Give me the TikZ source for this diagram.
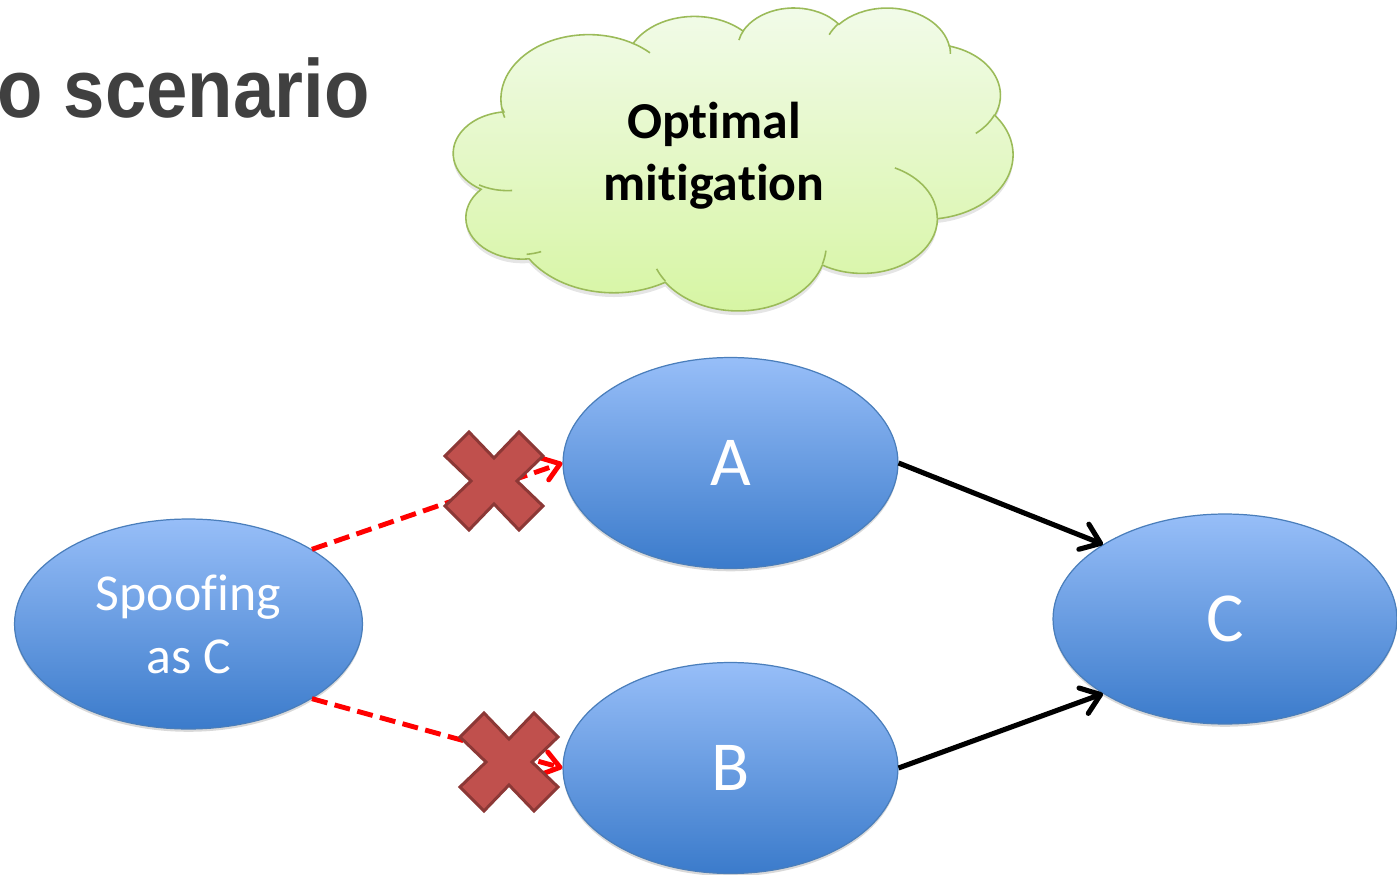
\documentclass[tikz,border=0pt]{standalone}
\usepackage{fontspec}
\setmainfont{Carlito}[Ligatures=NoCommon]
\newfontfamily\titlefont{Liberation Sans}
\usetikzlibrary{shapes.geometric,arrows.meta,shadows}

\definecolor{titlegray}{HTML}{404040}
\definecolor{ovaltop}{HTML}{97BEF8}
\definecolor{ovalbot}{HTML}{3B7BCB}
\definecolor{ovaledge}{HTML}{4A7EBB}
\definecolor{cloudtop}{HTML}{F2FBEA}
\definecolor{cloudbot}{HTML}{D6F5A2}
\definecolor{cloudedge}{HTML}{9BBB59}
\definecolor{crossfill}{HTML}{C0504D}
\definecolor{crossedge}{HTML}{8C3836}

% the cloud is laid out in a square frame of 432 x 432 units
\def\ck{1}
% elliptical arc from the current point: radii, polar start angle, sweep
\newcommand\cldarc[4]{arc[x radius=#1, y radius=#2,
  start angle={atan2(\ck*#1*sin(#3), #2*cos(#3))},
  delta angle={mod(atan2(\ck*#1*sin(#3+#4), #2*cos(#3+#4)) - atan2(\ck*#1*sin(#3), #2*cos(#3)) + 720, 360)}]}
\newcommand\cloudoutline{(39.00,143.70)
  \cldarc{67.53}{91.90}{-190.4875}{123.7805}
  \cldarc{53.33}{72.67}{-144.1024}{89.9452}
  \cldarc{43.65}{59.45}{-145.8079}{99.7230}
  \cldarc{48.57}{65.95}{-130.9861}{117.2417}
  \cldarc{53.33}{72.73}{-78.7089}{109.0269}
  \cldarc{67.75}{92.20}{-46.2673}{130.2690}
  \cldarc{57.85}{78.67}{0.6250}{114.0333}
  \cldarc{67.52}{92.15}{22.4516}{115.1726}
  \cldarc{77.20}{105.43}{66.2426}{72.4893}
  \cldarc{43.60}{59.18}{-274.9421}{146.7356}
  \cldarc{43.45}{59.45}{-246.8285}{152.5189} -- cycle}

\tikzset{
  oval/.style={ellipse, inner sep=0pt, draw=ovaledge, line width=0.7pt,
    top color=ovaltop, bottom color=ovalbot, text=white,
    drop shadow={shadow xshift=0pt, shadow yshift=-1.6pt, opacity=0.3}},
  link/.style={line width=2.9pt, -{Straight Barb[length=3.6mm,width=5.4mm,round]}},
  blocked/.style={red, line width=2.8pt, dash pattern=on 3.2mm off 1.5mm,
    -{Straight Barb[length=3.2mm,width=4.6mm,round]}},
  xmark/.style={fill=crossfill, draw=crossedge, line width=1.7pt, line join=miter},
  pics/crossmark/.style={code={
    \draw[xmark] (49,25) -- (25,49) -- (0,23) -- (-25,49) -- (-49,25) -- (-23,0)
      -- (-49,-25) -- (-25,-49) -- (0,-23) -- (25,-49) -- (49,-25) -- (23,0) -- cycle;}}
}

\begin{document}
\begin{tikzpicture}[x=0.02cm, y=-0.02cm]
\useasboundingbox (0,0) rectangle (1397,875);

% heading
\node[anchor=base east, inner sep=0pt, text=titlegray, xscale=0.9,
  font=\titlefont\bfseries\fontsize{47}{56}\selectfont] (title) at (370,118) {o scenario};

% thought cloud
\begin{scope}[shift={(451,7)}, x=0.026019cm, y=-0.014028cm]
  \fill[black, opacity=0.1, shift={(0,6)}] \cloudoutline;
  \draw[cloudedge, line width=0.9pt, top color=cloudtop, bottom color=cloudbot] \cloudoutline;
  \draw[cloudedge, line width=0.9pt]
    (46.93,261.77) \cldarc{43.45}{59.45}{86.7420}{26.4295}
    (69.28,348.99) \cldarc{43.60}{59.18}{73.6105}{11.4475}
    (164.78,390.90) \cldarc{67.52}{92.15}{137.6242}{14.0811}
    (288.27,347.51) \cldarc{67.52}{92.15}{6.4533}{15.9984}
    (341.29,229.54) \cldarc{57.85}{78.67}{-70.2924}{70.9174}
    (417.98,153.54) \cldarc{53.33}{72.73}{30.3180}{27.7515}
    (383.24,54.26) \cldarc{48.57}{65.95}{-13.7443}{14.8589}
    (290.78,39.52) \cldarc{48.57}{65.95}{-149.1815}{18.1954}
    (221.41,47.20) \cldarc{43.65}{59.45}{-163.4943}{17.6864}
    (140.00,51.92) \cldarc{67.53}{91.90}{-66.7070}{12.3194}
    (41.27,157.89) \cldarc{67.53}{91.90}{157.6544}{11.8582};
\end{scope}
\node[align=center, font=\bfseries\fontsize{29.5}{35.5}\selectfont] (idea) at (714,156) {Optimal\\mitigation};

% hosts
\node[oval, minimum width=6.96cm, minimum height=4.2cm, align=center,
  font=\fontsize{29.5}{36}\selectfont] (spoof) at (188.5,624) {Spoofing\\as C};
\node[oval, minimum width=6.7cm, minimum height=4.22cm, font=\fontsize{40}{48}\selectfont] (a) at (730.5,463) {A};
\node[oval, minimum width=6.7cm, minimum height=4.22cm, font=\fontsize{40}{48}\selectfont] (b) at (730.5,768) {B};
\node[oval, minimum width=6.88cm, minimum height=4.2cm, font=\fontsize{40}{48}\selectfont] (c) at (1225,619) {C};

% traffic
\draw[link] (a.east) -- (c.north west);
\draw[link] (b.east) -- (c.south west);
\draw[blocked] (spoof.north east) -- (a.west);
\draw[blocked] (spoof.south east) -- (b.west);

% blocked marks
\pic at (494,481) {crossmark};
\pic at (509,762) {crossmark};
\end{tikzpicture}
\end{document}
